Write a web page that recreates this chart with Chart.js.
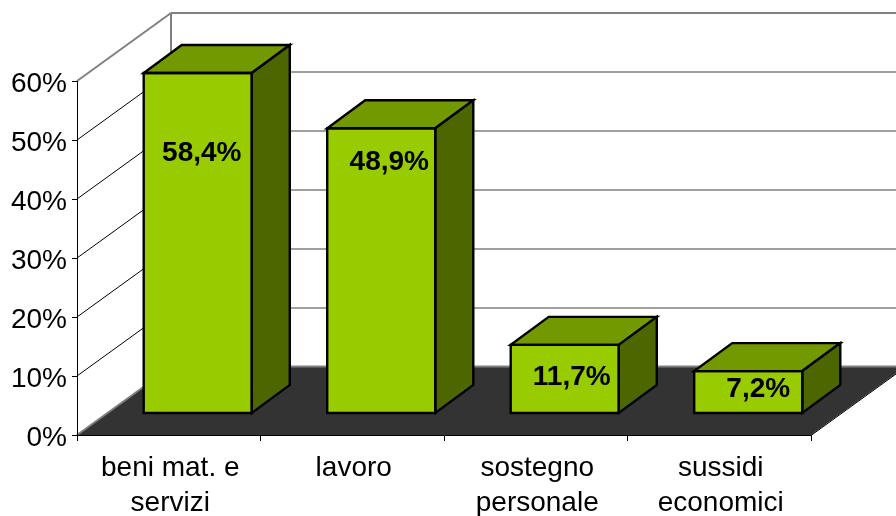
<!DOCTYPE html>
<html>
<head>
<meta charset="utf-8">
<style>html,body{margin:0;padding:0;background:#fff;overflow:hidden}#w{width:896px;height:516px;position:relative}</style>
<script src="https://cdn.jsdelivr.net/npm/chart.js@4"></script>
</head>
<body>
<div id="w"><canvas id="c" width="896" height="516"></canvas></div>
<script>
const categories = [["beni mat. e","servizi"],"lavoro",["sostegno","personale"],["sussidi","economici"]];
const values = [58.4, 48.9, 11.7, 7.2];
const yTicks = [0,10,20,30,40,50,60];

const FONT = '"Liberation Sans", Arial, sans-serif';
const wallDepth = {x:94, y:-68};
const barShift = {x:29, y:-22};
const barDepth = {x:38, y:-28};
const labelNudge = [{x:4,y:80},{x:8,y:34},{x:7,y:32},{x:10,y:18}];

function poly(ctx, pts, fill, stroke, lw){
  ctx.beginPath();
  pts.forEach((p,i)=> i?ctx.lineTo(p[0],p[1]):ctx.moveTo(p[0],p[1]));
  ctx.closePath();
  if(fill){ctx.fillStyle=fill;ctx.fill();}
  if(stroke){ctx.strokeStyle=stroke;ctx.lineWidth=lw;ctx.lineJoin='miter';ctx.stroke();}
}
function line(ctx,x1,y1,x2,y2,color,lw){
  ctx.beginPath();ctx.moveTo(x1,y1);ctx.lineTo(x2,y2);ctx.strokeStyle=color;ctx.lineWidth=lw;ctx.stroke();
}
const room = {
  id:'room',
  beforeDraw(chart){
    const {ctx,chartArea:a,scales:{y}} = chart;
    const dx=wallDepth.x, dy=wallDepth.y;
    ctx.save();
    // floor
    poly(ctx,[[a.left,a.bottom],[a.right,a.bottom],[a.right+dx,a.bottom+dy],[a.left+dx,a.bottom+dy]],'#333333');
    line(ctx,a.left,a.bottom,a.left+dx,a.bottom+dy,'#808080',2);
    line(ctx,a.left+dx,a.bottom+dy-0.5,a.right+dx,a.bottom+dy-0.5,'#808080',2);
    line(ctx,a.right,a.bottom+0.5,a.right+dx,a.bottom+dy+0.5,'#000000',1);
    // wall lines
    yTicks.forEach(t=>{
      const py=y.getPixelForValue(t);
      if(t>0){
        const top=t===yTicks[yTicks.length-1];
        line(ctx,a.left,py,a.left+dx,py+dy,top?'#808080':'#000000',top?2:1);
        line(ctx,a.left+dx,py+dy,a.right+dx,py+dy,'#808080',top?2:1.5);
      }
    });
    line(ctx,a.left+dx,a.top+dy,a.left+dx,a.bottom+dy,'#808080',2);
    ctx.restore();
  },
  beforeDatasetDraw(chart){
    chart.ctx.save();
    chart.ctx.translate(barShift.x,barShift.y);
  },
  afterDatasetDraw(chart){
    const ctx=chart.ctx;
    const els=chart.getDatasetMeta(0).data;
    const dx=barDepth.x, dy=barDepth.y;
    els.forEach((b,i)=>{
      const l=b.x-b.width/2, r=b.x+b.width/2, t=b.y, bt=b.base;
      poly(ctx,[[l,t],[r,t],[r+dx,t+dy],[l+dx,t+dy]],'#739900','#000000',2.4);
      poly(ctx,[[r,t],[r+dx,t+dy],[r+dx,bt+dy],[r,bt]],'#4D6600','#000000',2.4);
      poly(ctx,[[l,t],[r,t],[r,bt],[l,bt]],null,'#000000',2.4);
    });
    ctx.fillStyle='#000000';
    ctx.font='bold 28px '+FONT;
    ctx.textAlign='center';ctx.textBaseline='middle';
    els.forEach((b,i)=>{
      ctx.fillText(values[i].toFixed(1).replace('.',',')+'%', b.x+labelNudge[i].x, b.y+labelNudge[i].y);
    });
    ctx.restore();
  }
};

new Chart(document.getElementById('c'),{
  type:'bar',
  data:{labels:categories,datasets:[{
    data:values,yAxisID:'yBars',backgroundColor:'#99CC00',borderWidth:0,
    barPercentage:0.589,categoryPercentage:1,clip:false
  }]},
  plugins:[room],
  options:{
    responsive:false,animation:false,
    layout:{padding:{top:81,right:85,left:0,bottom:0}},
    plugins:{legend:{display:false},tooltip:{enabled:false},title:{display:false}},
    scales:{
      x:{
        afterFit(s){s.height=81;},
        grid:{drawOnChartArea:false,color:'#000000',tickLength:6,offset:true,lineWidth:1},
        border:{color:'#000000',width:1},
        ticks:{color:'#000000',font:{family:FONT,size:28,lineHeight:1.25},padding:10,labelOffset:1.5,maxRotation:0,autoSkip:false}
      },
      y:{
        min:0,max:60,
        afterFit(s){s.width=77;},
        grid:{drawOnChartArea:false,color:'#000000',tickLength:5,lineWidth:1},
        border:{color:'#000000',width:1},
        afterBuildTicks(s){s.ticks=yTicks.map(v=>({value:v}));},
        ticks:{color:'#000000',font:{family:FONT,size:28},padding:5,labelOffset:3,callback:v=>v+'%'}
      },
      yBars:{display:false,min:0,max:60.8}
    }
  }
});
</script>
</body>
</html>
